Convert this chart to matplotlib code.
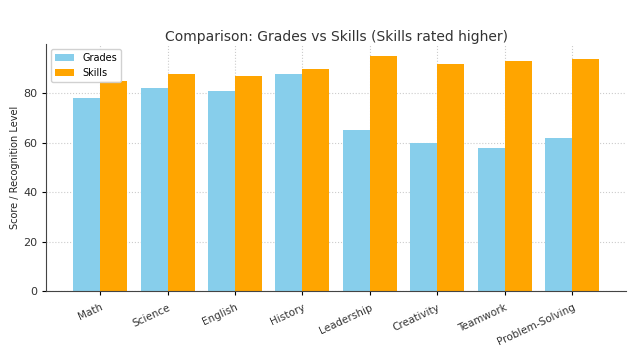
import numpy as np
import matplotlib
matplotlib.use("Agg")
import matplotlib.pyplot as plt

categories = ["Math", "Science", "English", "History", "Leadership",
              "Creativity", "Teamwork", "Problem-Solving"]
grades = [78, 82, 81, 88, 65, 60, 58, 62]
skills = [85, 88, 87, 90, 95, 92, 93, 94]


def main():
    fig = plt.figure(figsize=(6.41, 3.52), dpi=100)
    ax = fig.add_axes([0.072, 0.173, 0.905, 0.702])
    x = np.arange(len(categories))
    w = 0.4
    ax.bar(x - w / 2, grades, w, color="skyblue", label="Grades", zorder=2)
    ax.bar(x + w / 2, skills, w, color="orange", label="Skills", zorder=2)

    ax.set_xlim(-0.8, 7.8)
    ax.set_ylim(0, 100)
    ax.set_yticks([0, 20, 40, 60, 80])
    ax.set_xticks(x)
    ax.set_xticklabels(categories, rotation=25, ha="right",
                       rotation_mode="anchor", fontsize=7.5, color="#333333")
    ax.tick_params(axis="y", labelsize=8, labelcolor="#333333", length=3)
    ax.tick_params(axis="x", length=3, pad=5)
    ax.set_ylabel("Score / Recognition Level", fontsize=7, color="#222222",
                  labelpad=2)
    ax.set_title("Comparison: Grades vs Skills (Skills rated higher)",
                 fontsize=10, color="#333333", pad=1)
    ax.grid(True, linestyle=":", color="#cccccc", linewidth=0.8, zorder=0)
    for s in ["top", "right"]:
        ax.spines[s].set_visible(False)
    for s in ["left", "bottom"]:
        ax.spines[s].set_color("#444444")
    ax.legend(loc="upper left", fontsize=7, framealpha=0.9,
              edgecolor="#cccccc")
    fig.savefig("out.png", dpi=100)


if __name__ == "__main__":
    main()
